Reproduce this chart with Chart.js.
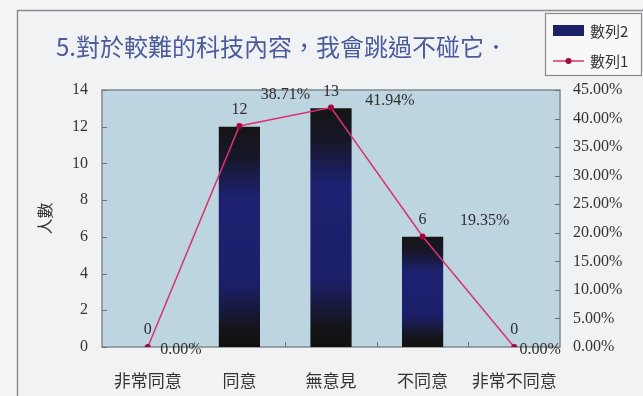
<!DOCTYPE html>
<html>
<head>
<meta charset="utf-8">
<script src="https://cdn.jsdelivr.net/npm/chart.js@4/dist/chart.umd.min.js"></script>
<style>
    body { margin: 0; background: #f5f5f6; }
    #caixa { width: 643px; height: 396px; }
</style>
</head>
<body>
<div id="caixa"><canvas id="grafico" width="643" height="396"></canvas></div>
<script>
var titulo = "5.對於較難的科技內容，我會跳過不碰它．";
var categorias = ["非常同意", "同意", "無意見", "不同意", "非常不同意"];
var pessoas = [0, 12, 13, 6, 0];                  // 數列2 - 人數
var percentuais = [0, 38.71, 41.94, 19.35, 0];    // 數列1 - %
var ticksPessoas = [0, 2, 4, 6, 8, 10, 12, 14];
var ticksPercentual = [0, 5, 10, 15, 20, 25, 30, 35, 40, 45];

var fonteNumeros = "'Liberation Serif', 'Times New Roman', serif";
var fonteChines = "'Noto Sans CJK TC', 'Noto Sans', sans-serif";

// gradiente das barras: preto em cima e embaixo, azul escuro no meio
function corBarra(ctx) {
    if (ctx.type !== 'data') return '#1c2070';
    var chart = ctx.chart;
    if (!chart.chartArea) return '#1c2070';
    var escala = chart.scales.y;
    var topo = escala.getPixelForValue(ctx.raw);
    var base = escala.getPixelForValue(0);
    if (base - topo < 2) return '#151515';
    var g = chart.ctx.createLinearGradient(0, topo, 0, base);
    g.addColorStop(0, '#151515');
    g.addColorStop(0.14, '#17172a');
    g.addColorStop(0.32, '#1d2170');
    g.addColorStop(0.72, '#1c1f68');
    g.addColorStop(0.92, '#141418');
    g.addColorStop(1, '#111111');
    return g;
}

// fundo, moldura, titulo e legenda
var moldura = {
    id: 'moldura',
    beforeDraw: function (chart) {
        var c = chart.ctx;
        var a = chart.chartArea;
        c.save();
        c.fillStyle = '#f5f5f6';
        c.fillRect(0, 0, chart.width, chart.height);
        c.fillStyle = '#f1f2f4';
        c.fillRect(18, 10, chart.width, chart.height);
        c.strokeStyle = '#8c8c8c';
        c.lineWidth = 1.5;
        c.beginPath();
        c.moveTo(17.5, chart.height + 2);
        c.lineTo(17.5, 10.5);
        c.lineTo(chart.width + 2, 10.5);
        c.stroke();

        // area do grafico
        c.fillStyle = '#bdd4e1';
        c.fillRect(a.left, a.top, a.right - a.left, a.bottom - a.top);
        c.strokeStyle = '#85898c';
        c.lineWidth = 1.5;
        c.strokeRect(a.left, a.top, a.right - a.left, a.bottom - a.top);

        // marcas internas dos eixos
        c.strokeStyle = '#6d7275';
        c.lineWidth = 1;
        c.beginPath();
        chart.scales.y.ticks.forEach(function (t) {
            var py = Math.round(chart.scales.y.getPixelForValue(t.value)) + 0.5;
            c.moveTo(a.left, py); c.lineTo(a.left + 5, py);
        });
        chart.scales.y1.ticks.forEach(function (t) {
            var py = Math.round(chart.scales.y1.getPixelForValue(t.value)) + 0.5;
            c.moveTo(a.right, py); c.lineTo(a.right - 5, py);
        });
        var larg = (a.right - a.left) / categorias.length;
        for (var i = 1; i < categorias.length; i++) {
            var px = Math.round(a.left + larg * i) + 0.5;
            c.moveTo(px, a.bottom); c.lineTo(px, a.bottom - 5);
        }
        c.stroke();

        // titulo
        c.fillStyle = '#4b5b9b';
        c.font = '24px ' + fonteChines;
        c.textBaseline = 'middle';
        c.textAlign = 'left';
        c.fillText(titulo, 56, 47);

        // legenda
        c.fillStyle = '#f8f8f9';
        c.fillRect(545, 13, 96, 62);
        c.strokeStyle = '#8a8a8a';
        c.lineWidth = 1.2;
        c.strokeRect(545.5, 13.5, 96, 62);
        c.fillStyle = '#1b2068';
        c.fillRect(553, 25, 31, 11);
        c.strokeStyle = '#d9336f';
        c.lineWidth = 1.5;
        c.beginPath();
        c.moveTo(553, 61); c.lineTo(584, 61);
        c.stroke();
        c.fillStyle = '#a3073c';
        c.beginPath();
        c.arc(568.5, 61, 3, 0, Math.PI * 2);
        c.fill();
        c.fillStyle = '#333';
        c.font = '15px ' + fonteChines;
        c.fillText('數列2', 590, 31);
        c.fillText('數列1', 590, 61);
        c.restore();
    }
};

// rotulos de valor das barras e dos pontos
var rotulos = {
    id: 'rotulos',
    afterDatasetsDraw: function (chart, args, opts) {
        var c = chart.ctx;
        c.save();
        c.font = '16px ' + fonteNumeros;
        c.fillStyle = '#2e2e2e';
        c.textAlign = 'center';
        c.textBaseline = 'middle';
        chart.getDatasetMeta(0).data.forEach(function (bar, i) {
            c.fillText(String(pessoas[i]), bar.x, bar.y - 17);
        });
        chart.getDatasetMeta(1).data.forEach(function (pt, i) {
            var d = opts.deslocamentos[i];
            c.fillText(percentuais[i].toFixed(2) + '%', pt.x + d[0], pt.y + d[1]);
        });
        c.restore();
    }
};

new Chart(document.getElementById("grafico"), {
    data: {
        labels: categorias,
        datasets: [
            {
                type: 'bar',
                label: "數列2",
                data: pessoas,
                backgroundColor: corBarra,
                yAxisID: 'y',
                barPercentage: 0.45,
                categoryPercentage: 1,
                order: 1
            }, {
                type: 'line',
                label: "數列1",
                data: percentuais,
                yAxisID: 'y1',
                borderColor: '#d9336f',
                borderWidth: 1.5,
                pointRadius: 3,
                pointBorderWidth: 0,
                pointBackgroundColor: '#a3073c',
                tension: 0,
                order: 0
            }
        ]
    },
    options: {
        responsive: false,
        animation: false,
        layout: { padding: { left: 20, top: 90, right: 0, bottom: 0 } },
        plugins: {
            legend: { display: false },
            tooltip: { enabled: false },
            rotulos: { deslocamentos: [[33, 3], [46, -31], [59, -7], [62, -16], [26, 3]] }
        },
        scales: {
            x: {
                grid: { display: false, drawTicks: false },
                border: { display: false },
                ticks: { color: '#333', font: { family: fonteChines, size: 17 }, padding: 23, maxRotation: 0 },
                afterFit: function (s) { s.height = 49; }
            },
            y: {
                position: 'left',
                min: ticksPessoas[0],
                max: ticksPessoas[ticksPessoas.length - 1],
                afterBuildTicks: function (s) { s.ticks = ticksPessoas.map(function (v) { return { value: v }; }); },
                grid: { display: false, drawTicks: false },
                border: { display: false },
                ticks: { color: '#333', font: { family: fonteNumeros, size: 16 }, padding: 14 },
                title: { display: true, text: '人數', color: '#333', font: { family: fonteChines, size: 16 }, padding: { top: 15, bottom: 0 } },
                afterFit: function (s) { s.width = 82; }
            },
            y1: {
                position: 'right',
                min: ticksPercentual[0],
                max: ticksPercentual[ticksPercentual.length - 1],
                afterBuildTicks: function (s) { s.ticks = ticksPercentual.map(function (v) { return { value: v }; }); },
                grid: { display: false, drawTicks: false },
                border: { display: false },
                ticks: {
                    color: '#333',
                    font: { family: fonteNumeros, size: 16 },
                    padding: 13,
                    callback: function (v) { return v.toFixed(2) + '%'; }
                },
                afterFit: function (s) { s.width = 83; }
            }
        }
    },
    plugins: [moldura, rotulos]
});
</script>
</body>
</html>
